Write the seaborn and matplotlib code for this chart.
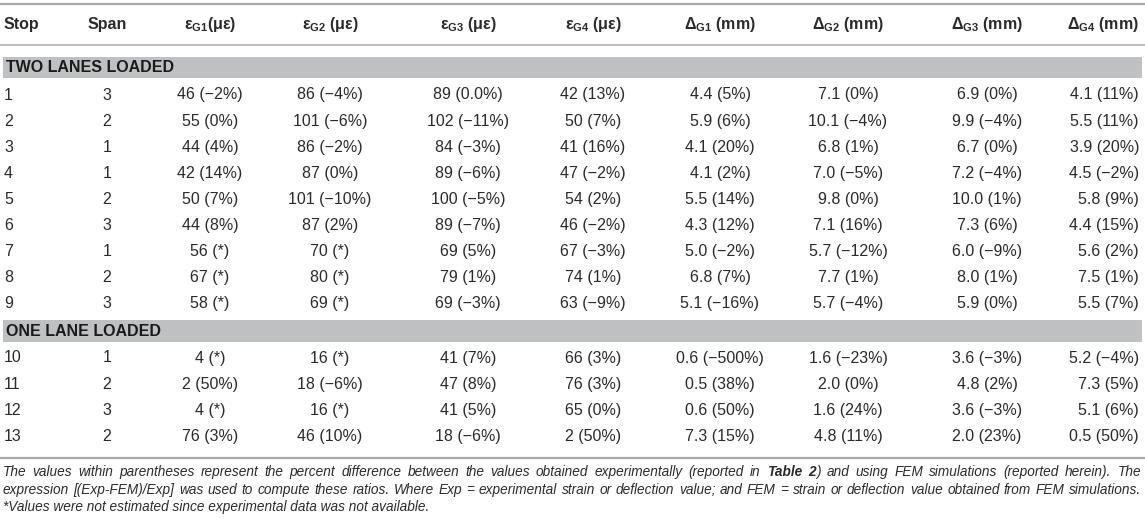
import matplotlib
matplotlib.use('Agg')
import matplotlib.pyplot as plt
import seaborn as sns

sns.set_style('white')
plt.rcParams['font.family'] = ['Liberation Sans', 'DejaVu Sans']
plt.rcParams['mathtext.fontset'] = 'custom'
plt.rcParams['mathtext.rm'] = 'Liberation Sans'
plt.rcParams['mathtext.bf'] = 'Liberation Sans:bold'
plt.rcParams['mathtext.it'] = 'Liberation Sans:italic'

# ---- data ----
headers = ['Stop', 'Span',
           r'ε$_{\mathbf{G1}}$(με)', r'ε$_{\mathbf{G2}}$ (με)',
           r'ε$_{\mathbf{G3}}$ (με)', r'ε$_{\mathbf{G4}}$ (με)',
           r'Δ$_{\mathbf{G1}}$ (mm)', r'Δ$_{\mathbf{G2}}$ (mm)',
           r'Δ$_{\mathbf{G3}}$ (mm)', r'Δ$_{\mathbf{G4}}$ (mm)']

groups = ['TWO LANES LOADED', 'ONE LANE LOADED']
group_sizes = [9, 4]

stops = ['1', '2', '3', '4', '5', '6', '7', '8', '9', '10', '11', '12', '13']
spans = ['3', '2', '1', '1', '2', '3', '1', '2', '3', '1', '2', '3', '2']
eps_g1 = ['46 (−2%)', '55 (0%)', '44 (4%)', '42 (14%)', '50 (7%)', '44 (8%)',
          '56 (*)', '67 (*)', '58 (*)', '4 (*)', '2 (50%)', '4 (*)', '76 (3%)']
eps_g2 = ['86 (−4%)', '101 (−6%)', '86 (−2%)', '87 (0%)', '101 (−10%)', '87 (2%)',
          '70 (*)', '80 (*)', '69 (*)', '16 (*)', '18 (−6%)', '16 (*)', '46 (10%)']
eps_g3 = ['89 (0.0%)', '102 (−11%)', '84 (−3%)', '89 (−6%)', '100 (−5%)', '89 (−7%)',
          '69 (5%)', '79 (1%)', '69 (−3%)', '41 (7%)', '47 (8%)', '41 (5%)', '18 (−6%)']
eps_g4 = ['42 (13%)', '50 (7%)', '41 (16%)', '47 (−2%)', '54 (2%)', '46 (−2%)',
          '67 (−3%)', '74 (1%)', '63 (−9%)', '66 (3%)', '76 (3%)', '65 (0%)', '2 (50%)']
dlt_g1 = ['4.4 (5%)', '5.9 (6%)', '4.1 (20%)', '4.1 (2%)', '5.5 (14%)', '4.3 (12%)',
          '5.0 (−2%)', '6.8 (7%)', '5.1 (−16%)', '0.6 (−500%)', '0.5 (38%)', '0.6 (50%)', '7.3 (15%)']
dlt_g2 = ['7.1 (0%)', '10.1 (−4%)', '6.8 (1%)', '7.0 (−5%)', '9.8 (0%)', '7.1 (16%)',
          '5.7 (−12%)', '7.7 (1%)', '5.7 (−4%)', '1.6 (−23%)', '2.0 (0%)', '1.6 (24%)', '4.8 (11%)']
dlt_g3 = ['6.9 (0%)', '9.9 (−4%)', '6.7 (0%)', '7.2 (−4%)', '10.0 (1%)', '7.3 (6%)',
          '6.0 (−9%)', '8.0 (1%)', '5.9 (0%)', '3.6 (−3%)', '4.8 (2%)', '3.6 (−3%)', '2.0 (23%)']
dlt_g4 = ['4.1 (11%)', '5.5 (11%)', '3.9 (20%)', '4.5 (−2%)', '5.8 (9%)', '4.4 (15%)',
          '5.6 (2%)', '7.5 (1%)', '5.5 (7%)', '5.2 (−4%)', '7.3 (5%)', '5.1 (6%)', '0.5 (50%)']

note_line1 = [[('The', 0)], [('values', 0)], [('within', 0)], [('parentheses', 0)],
              [('represent', 0)], [('the', 0)], [('percent', 0)], [('difference', 0)],
              [('between', 0)], [('the', 0)], [('values', 0)], [('obtained', 0)],
              [('experimentally', 0)], [('(reported', 0)], [('in', 0)], [('Table', 1)],
              [('2', 1), (')', 0)], [('and', 0)], [('using', 0)], [('FEM', 0)],
              [('simulations', 0)], [('(reported', 0)], [('herein).', 0)], [('The', 0)]]
note_line2 = 'expression [(Exp-FEM)/Exp] was used to compute these ratios. Where Exp = experimental strain or deflection value; and FEM = strain or deflection value obtained from FEM simulations.'
note_line3 = '*Values were not estimated since experimental data was not available.'

columns = [stops, spans, eps_g1, eps_g2, eps_g3, eps_g4, dlt_g1, dlt_g2, dlt_g3, dlt_g4]

# ---- layout (pixels) ----
W, H = 1145, 527
col_x = [4, 107, 210, 330, 468, 593, 720, 848, 987, 1139]
col_ha = ['left', 'center', 'center', 'center', 'center', 'center', 'center', 'center', 'center', 'right']
ink = '#2a2a2a'
rule = '#a9a9a9'
band = '#bfc0c2'
fs = 11.5

fig = plt.figure(figsize=(W / 100, H / 100), dpi=100)
ax = fig.add_axes([0, 0, 1, 1])
ax.set_xlim(0, W)
ax.set_ylim(H, 0)
ax.axis('off')

# rules
ax.axhline(4, color=rule, lw=1.6)
ax.axhline(45, color=rule, lw=1.1)
ax.axhline(458, color=rule, lw=1.6)

# header
for x, ha, h in zip(col_x, col_ha, headers):
    ax.text(x, 25, h, ha=ha, va='center', fontsize=fs, fontweight='bold', color=ink)

# group bands and rows
band_y = [(57, 78), (320, 342)]
row_start = [95, 358]
row_h = 26.1
i = 0
for g, n, (b0, b1), y0 in zip(groups, group_sizes, band_y, row_start):
    ax.fill_between([3, 1142], b0, b1, color=band, lw=0)
    ax.text(6, (b0 + b1) / 2 + 0.5, g, ha='left', va='center', fontsize=fs,
            fontweight='bold', color='#1a1a1a')
    for k in range(n):
        y = y0 + k * row_h
        for x, ha, col in zip(col_x, col_ha, columns):
            ax.text(x, y, col[i], ha=ha, va='center', fontsize=fs, color=ink)
        i += 1

# footnote
renderer = fig.canvas.get_renderer()
nfs = 9.85


def place_justified(words, y, x0, x1):
    made = []
    total = 0
    for w in words:
        segs = []
        ww = 0
        for s, b in w:
            t = ax.text(0, y, s, fontsize=nfs, style='italic', color=ink,
                        fontweight='bold' if b else 'normal', va='center', ha='left')
            wd = t.get_window_extent(renderer).width
            segs.append((t, wd))
            ww += wd
        made.append((segs, ww))
        total += ww
    gap = (x1 - x0 - total) / (len(made) - 1)
    x = x0
    for segs, ww in made:
        xx = x
        for t, wd in segs:
            t.set_x(xx)
            xx += wd
        x += ww + gap


place_justified(note_line1, 472, 3, 1141)
place_justified([[(w, 0)] for w in note_line2.split(' ')], 490, 3, 1141)
ax.text(3, 507, note_line3, fontsize=nfs, style='italic', color=ink, va='center', ha='left')

fig.savefig('out.png', dpi=100)
